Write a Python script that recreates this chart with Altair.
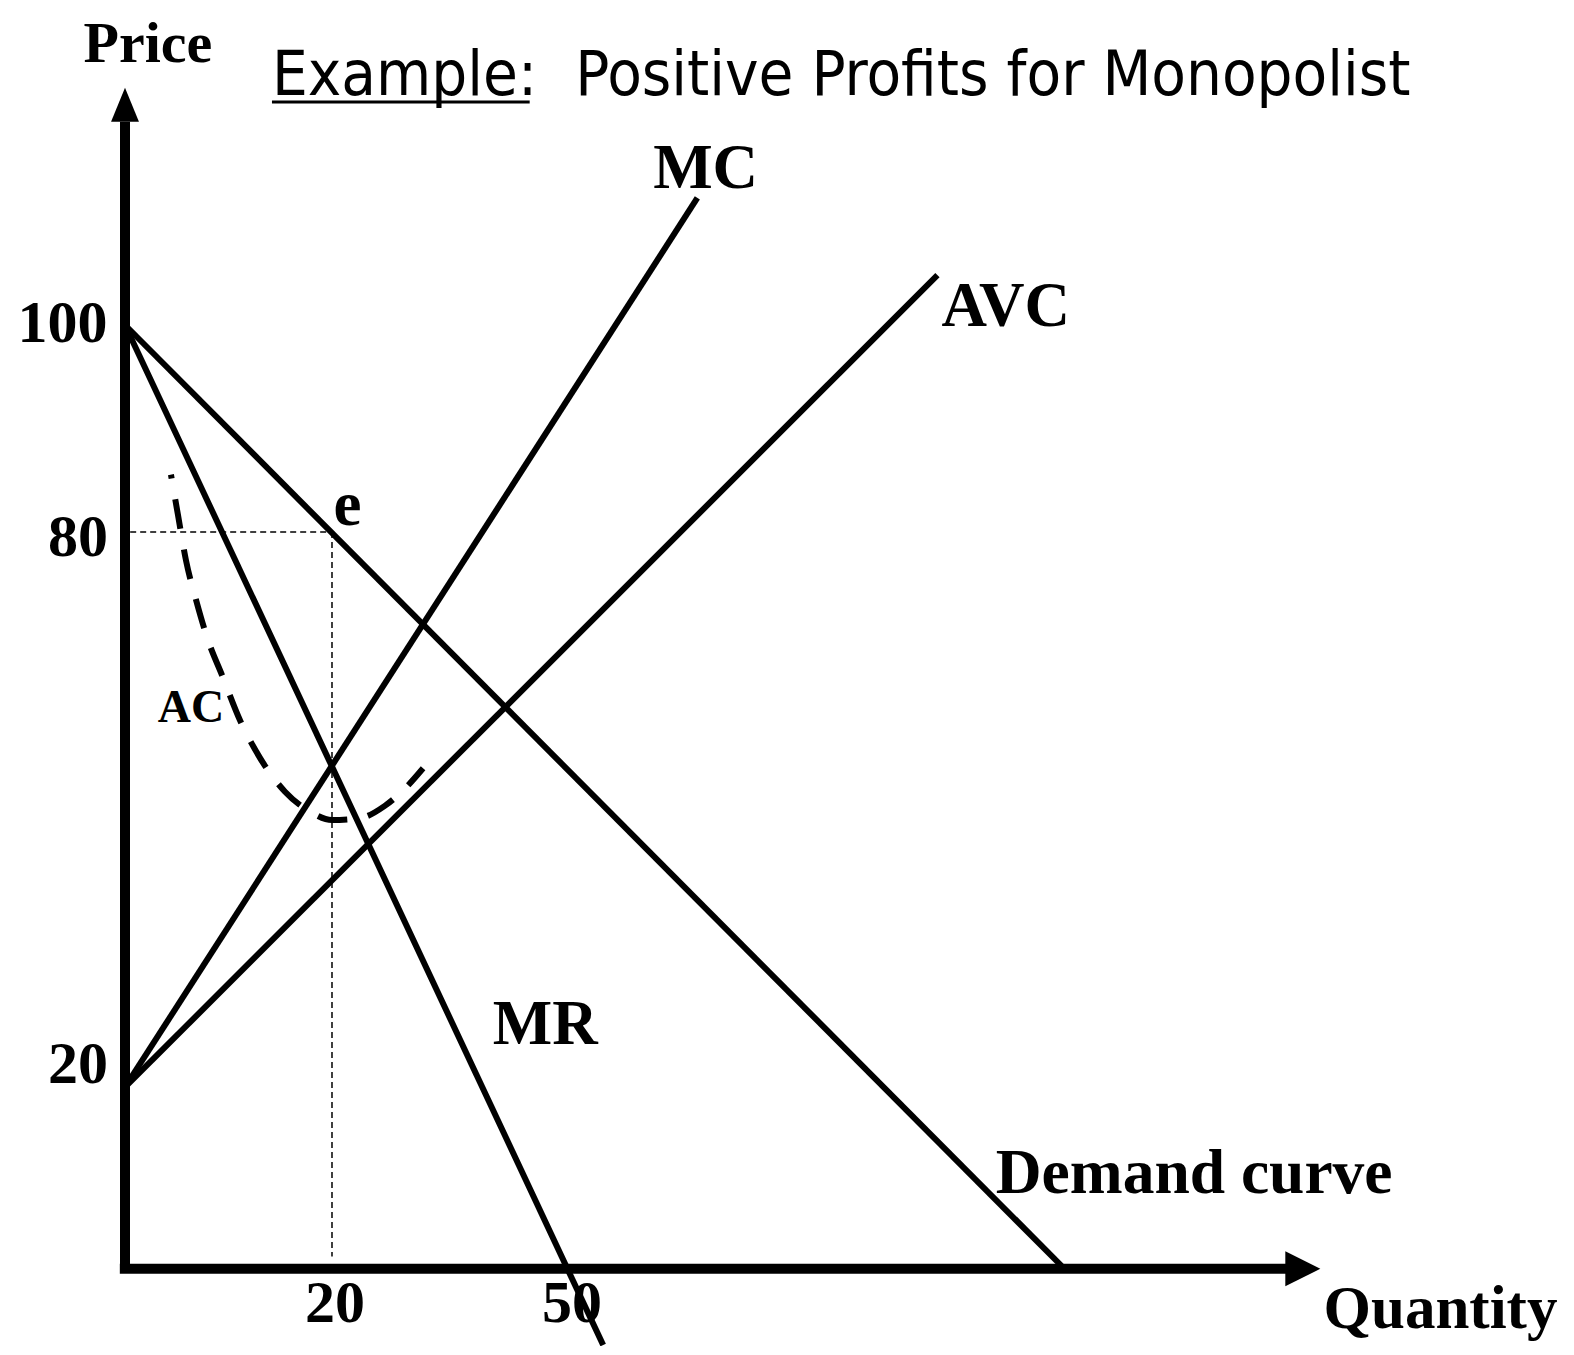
import altair as alt
import pandas as pd

# ---- chart coordinate system: Quantity (x) and Price (y) as drawn in the sketch ----
X_MAX = 137.2
Y_MAX = 133.05

# curves (endpoints / traced points)
demand_q = [0.0, 90.5]
demand_p = [100.0, 0.0]
mr_q = [0.0, 46.2]
mr_p = [100.0, -8.4]
mc_q = [0.0, 55.3]
mc_p = [19.0, 113.5]
avc_q = [0.0, 78.5]
avc_p = [19.0, 105.3]
ac_q = [4.44, 5.12, 5.89, 6.86, 8.02, 9.37, 11.11, 13.04, 15.46, 17.87, 20.0, 22.7, 25.1, 27.1, 28.8]
ac_p = [84.1, 79.8, 75.0, 70.8, 66.5, 62.8, 58.0, 54.0, 50.4, 48.3, 47.4, 47.6, 48.9, 50.8, 52.9]

# equilibrium guide (point e)
e_q = 20.0
e_p = 78.0

# axes
axis_top = 121.6
axis_right = 112.6

# tick labels (text, position)
ytick_text = ["100", "80", "20"]
ytick_pos = [98.2, 75.5, 19.4]
xtick_text = ["20", "50"]
xtick_pos = [20.3, 43.2]

# curve labels
curve_labels = ["MC", "AVC", "e", "MR"]
curve_label_q = [56.1, 85.1, 21.5, 40.6]
curve_label_p = [114.6, 99.9, 78.7, 23.6]

rows = []
for name, qs, ps in [("Demand", demand_q, demand_p), ("MR", mr_q, mr_p),
                     ("MC", mc_q, mc_p), ("AVC", avc_q, avc_p)]:
    for i, (q, p) in enumerate(zip(qs, ps)):
        rows.append({"series": name, "q": q, "p": p, "o": i})
curves_df = pd.DataFrame(rows)
ac_df = pd.DataFrame({"q": ac_q, "p": ac_p, "o": list(range(len(ac_q)))})

X = lambda f: alt.X(f, type="quantitative", scale=alt.Scale(domain=[0, X_MAX], nice=False, zero=False), axis=None)
Y = lambda f: alt.Y(f, type="quantitative", scale=alt.Scale(domain=[0, Y_MAX], nice=False, zero=False), axis=None)

curves = alt.Chart(curves_df).mark_line(color="black", strokeWidth=6, strokeCap="butt").encode(
    x=X("q"), y=Y("p"), detail="series:N", order="o:Q")

ac = alt.Chart(ac_df).mark_line(color="black", strokeWidth=6, strokeCap="butt", interpolate="monotone",
                               strokeDash=[30, 21], strokeDashOffset=26).encode(
    x=X("q"), y=Y("p"), order="o:Q")

guides_df = pd.DataFrame({"x1": [0.5, e_q], "x2": [e_q, e_q], "y1": [e_p, e_p], "y2": [e_p, 1.0]})
guides = alt.Chart(guides_df).mark_rule(color="black", strokeWidth=1.5, strokeDash=[6, 4]).encode(
    x=X("x1"), x2="x2:Q", y=Y("y1"), y2="y2:Q")

axes_df = pd.DataFrame({"x1": [0.0, -0.5], "x2": [0.0, axis_right], "y1": [-0.5, -0.3], "y2": [axis_top, -0.3]})
axes = alt.Chart(axes_df).mark_rule(color="black", strokeWidth=10, strokeCap="butt").encode(
    x=X("x1"), x2="x2:Q", y=Y("y1"), y2="y2:Q")

up_arrow = alt.Chart(pd.DataFrame({"q": [0.0], "p": [123.4]})).mark_point(
    shape="M0,-1L0.82,1L-0.82,1Z", size=1156, filled=True, color="black", opacity=1).encode(x=X("q"), y=Y("p"))
right_arrow = alt.Chart(pd.DataFrame({"q": [113.8], "p": [-0.3]})).mark_point(
    shape="M1,0L-1,1L-1,-1Z", size=1225, filled=True, color="black", opacity=1).encode(x=X("q"), y=Y("p"))

serif = "Liberation Serif"

ytick = alt.Chart(pd.DataFrame({"t": ytick_text, "p": ytick_pos, "q": [-1.7, -1.64, -1.64]})).mark_text(
    font=serif, fontWeight="bold", fontSize=60, align="right", baseline="alphabetic").encode(
    x=X("q"), y=Y("p"), text="t:N")
xtick = alt.Chart(pd.DataFrame({"t": xtick_text, "q": xtick_pos, "p": [-5.95, -5.95]})).mark_text(
    font=serif, fontWeight="bold", fontSize=60, align="center", baseline="alphabetic").encode(
    x=X("q"), y=Y("p"), text="t:N")

clabels = alt.Chart(pd.DataFrame({"t": curve_labels, "q": curve_label_q, "p": curve_label_p})).mark_text(
    font=serif, fontWeight="bold", fontSize=63, align="center", baseline="alphabetic").encode(
    x=X("q"), y=Y("p"), text="t:N")

demand_label = alt.Chart(pd.DataFrame({"t": ["Demand curve"], "q": [103.3], "p": [7.76]})).mark_text(
    font=serif, fontWeight="bold", fontSize=63.5, align="center", baseline="alphabetic").encode(
    x=X("q"), y=Y("p"), text="t:N")

ac_label = alt.Chart(pd.DataFrame({"t": ["AC"], "q": [6.38], "p": [57.8]})).mark_text(
    font=serif, fontWeight="bold", fontSize=46, align="center", baseline="alphabetic").encode(
    x=X("q"), y=Y("p"), text="t:N")

price_title = alt.Chart(pd.DataFrame({"t": ["Price"], "q": [2.22], "p": [128.0]})).mark_text(
    font=serif, fontWeight="bold", fontSize=58, align="center", baseline="alphabetic").encode(
    x=X("q"), y=Y("p"), text="t:N")
qty_title = alt.Chart(pd.DataFrame({"t": ["Quantity"], "q": [127.1], "p": [-6.6]})).mark_text(
    font=serif, fontWeight="bold", fontSize=61, align="center", baseline="alphabetic").encode(
    x=X("q"), y=Y("p"), text="t:N")

title_df = pd.DataFrame({"t": ["Example:", "Positive Profits for Monopolist"], "q": [14.2, 43.5], "p": [124.4, 124.4]})
title = alt.Chart(title_df).mark_text(
    font="DejaVu Sans Condensed", fontSize=63, align="left", baseline="alphabetic").encode(
    x=X("q"), y=Y("p"), text="t:N")
underline = alt.Chart(pd.DataFrame({"x1": [14.2], "x2": [39.1], "y1": [123.7]})).mark_rule(
    color="black", strokeWidth=3).encode(x=X("x1"), x2="x2:Q", y=Y("y1"))

chart = alt.layer(
    ytick, xtick, guides, ac, curves, axes, up_arrow, right_arrow,
    clabels, demand_label, ac_label, price_title, qty_title, title, underline
).properties(
    width=1420, height=1252,
    padding={"left": 117, "top": 6, "right": 21, "bottom": 80},
    autosize=alt.AutoSizeParams(type="none"),
    background="white",
).configure_view(stroke=None)

chart.save("out.html", embed_options={"renderer": "svg", "actions": False})
